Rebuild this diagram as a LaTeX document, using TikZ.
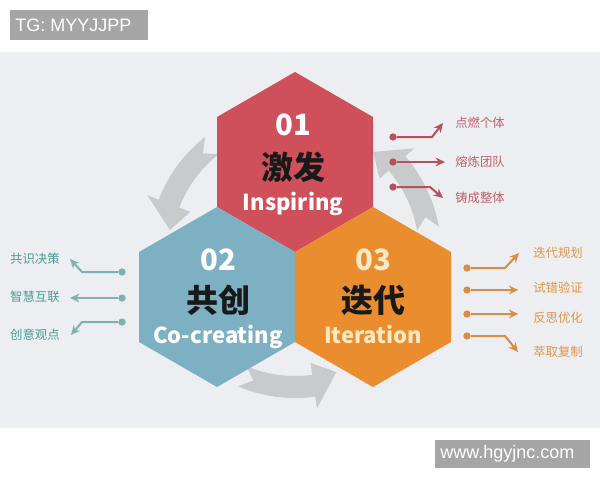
\documentclass[tikz,border=0pt]{standalone}
\usepackage{fontspec}
\usepackage{tikz}
\usetikzlibrary{arrows.meta,calc}
\newfontfamily\cjkfont{Noto Sans CJK SC}
\newfontfamily\tagfont{Liberation Sans}
\definecolor{panel}{HTML}{ECEEF1}
\definecolor{inspire}{HTML}{CF4F5B}
\definecolor{cocreate}{HTML}{7DB0C2}
\definecolor{iterate}{HTML}{E98D2E}
\definecolor{turngray}{HTML}{C9CACC}
\definecolor{cream}{HTML}{FCE9C4}
\definecolor{rline}{HTML}{B5505E}
\definecolor{rtext}{HTML}{C0606C}
\definecolor{bline}{HTML}{7DB0B0}
\definecolor{btext}{HTML}{4A9C98}
\definecolor{oline}{HTML}{D98C45}
\definecolor{otext}{HTML}{E0964A}
\definecolor{taggray}{HTML}{A6A6A6}
\tikzset{
  num/.style={anchor=base, inner sep=0pt, font=\cjkfont\bfseries\fontsize{22}{22}\selectfont},
  ttl/.style={anchor=base, inner sep=0pt, text=black!90, font=\cjkfont\bfseries\fontsize{24}{24}\selectfont},
  eng/.style={anchor=base, inner sep=0pt, font=\cjkfont\bfseries\fontsize{16.5}{16.5}\selectfont},
  side/.style={inner sep=0pt, font=\cjkfont\fontsize{9.3}{9.3}\selectfont},
  dot/.style={circle, inner sep=0pt, minimum size=5.5pt},
  ptr/.style={line width=1.5pt, -{Stealth[length=7pt, width=6.5pt]}},
  turn/.style={fill=turngray},
  tagtxt/.style={inner sep=0pt, text=white, font=\tagfont\fontsize{13.5}{13.5}\selectfont},
}
\begin{document}
\begin{tikzpicture}[x=0.75pt, y=-0.75pt]
  \useasboundingbox (0,0) rectangle (600,480);
  \fill[white] (0,0) rectangle (600,480);
  \fill[panel] (0,52) rectangle (600,428);

  % gray turning arrows round the centre of the three hexagons
  \begin{scope}[shift={(295,252)}, yscale=-1]
    \foreach \a in {128,10,247}
      \fill[turn] (\a:146) arc[start angle=\a, end angle=\a+31, radius=146]
        -- (\a+31:158) -- (\a+42:127) -- (\a+31:112) -- (\a+31:124)
        arc[start angle=\a+31, end angle=\a, radius=124] -- (\a+5:135) -- cycle;
  \end{scope}

  % hexagons
  \fill[inspire] (295,72) -- (373,117) -- (373,207) -- (295,252) -- (217,207) -- (217,117) -- cycle;
  \fill[cocreate] (217,207) -- (295,252) -- (295,342) -- (217,387) -- (139,342) -- (139,252) -- cycle;
  \fill[iterate] (373,207) -- (451,252) -- (451,342) -- (373,387) -- (295,342) -- (295,252) -- cycle;

  \node[num, text=white] (n1) at (293,135) {01};
  \node[ttl] (t1) at (293,179) {激发};
  \node[eng, text=white] (e1) at (293,210) {Inspiring};

  \node[num, text=white] (n2) at (218,270) {02};
  \node[ttl] (t2) at (218,312) {共创};
  \node[eng, text=white] (e2) at (218,343) {Co-creating};

  \node[num, text=cream] (n3) at (373,270) {03};
  \node[ttl] (t3) at (373,312) {迭代};
  \node[eng, text=cream] (e3) at (373,343) {Iteration};

  % inspiring
  \node[dot, fill=rline] (r1) at (393,137) {};
  \node[dot, fill=rline] (r2) at (393,162) {};
  \node[dot, fill=rline] (r3) at (393,187) {};
  \node[side, text=rtext, anchor=west] (rl1) at (455,123) {点燃个体};
  \node[side, text=rtext, anchor=west] (rl2) at (455,162) {熔炼团队};
  \node[side, text=rtext, anchor=west] (rl3) at (455,198) {铸成整体};
  \draw[ptr, rline] (r1) -- ++(39,0) -- ($(rl1.west)+(-12,0)$);
  \draw[ptr, rline, shorten >=7.5pt] (r2) -- (r2 -| rl2.west);
  \draw[ptr, rline] (r3) -- ++(37,0) -- ($(rl3.west)+(-12,0)$);

  % co-creating
  \node[dot, fill=bline] (b1) at (122,272) {};
  \node[dot, fill=bline] (b2) at (122,298) {};
  \node[dot, fill=bline] (b3) at (122,322) {};
  \node[side, text=btext, anchor=east] (bl1) at (60,259) {共识决策};
  \node[side, text=btext, anchor=east] (bl2) at (60,297) {智慧互联};
  \node[side, text=btext, anchor=east] (bl3) at (60,335) {创意观点};
  \draw[ptr, bline] (b1) -- ++(-40,0) -- ($(bl1.east)+(10,0)$);
  \draw[ptr, bline, shorten >=7.5pt] (b2) -- (b2 -| bl2.east);
  \draw[ptr, bline] (b3) -- ++(-40,0) -- ($(bl3.east)+(11,0)$);

  % iteration
  \node[dot, fill=oline] (o1) at (467,268) {};
  \node[dot, fill=oline] (o2) at (467,290) {};
  \node[dot, fill=oline] (o3) at (467,314) {};
  \node[dot, fill=oline] (o4) at (467,336) {};
  \node[side, text=otext, anchor=west] (ol1) at (533,253) {迭代规划};
  \node[side, text=otext, anchor=west] (ol2) at (533,288) {试错验证};
  \node[side, text=otext, anchor=west] (ol3) at (533,318) {反思优化};
  \node[side, text=otext, anchor=west] (ol4) at (533,352) {萃取复制};
  \draw[ptr, oline] (o1) -- ++(38,0) -- ($(ol1.west)+(-14,0)$);
  \draw[ptr, oline, shorten >=11pt] (o2) -- (o2 -| ol2.west);
  \draw[ptr, oline, shorten >=11pt] (o3) -- (o3 -| ol3.west);
  \draw[ptr, oline] (o4) -- ++(38,0) -- ($(ol4.west)+(-15,0)$);

  % tags
  \fill[taggray] (10,10) rectangle (148,40);
  \node[tagtxt, anchor=west] (tg) at (15,25) {TG: MYYJJPP};
  \fill[taggray] (435,440) rectangle (590,468);
  \node[tagtxt, anchor=west] (url) at (440,454) {www.hgyjnc.com};
\end{tikzpicture}
\end{document}
